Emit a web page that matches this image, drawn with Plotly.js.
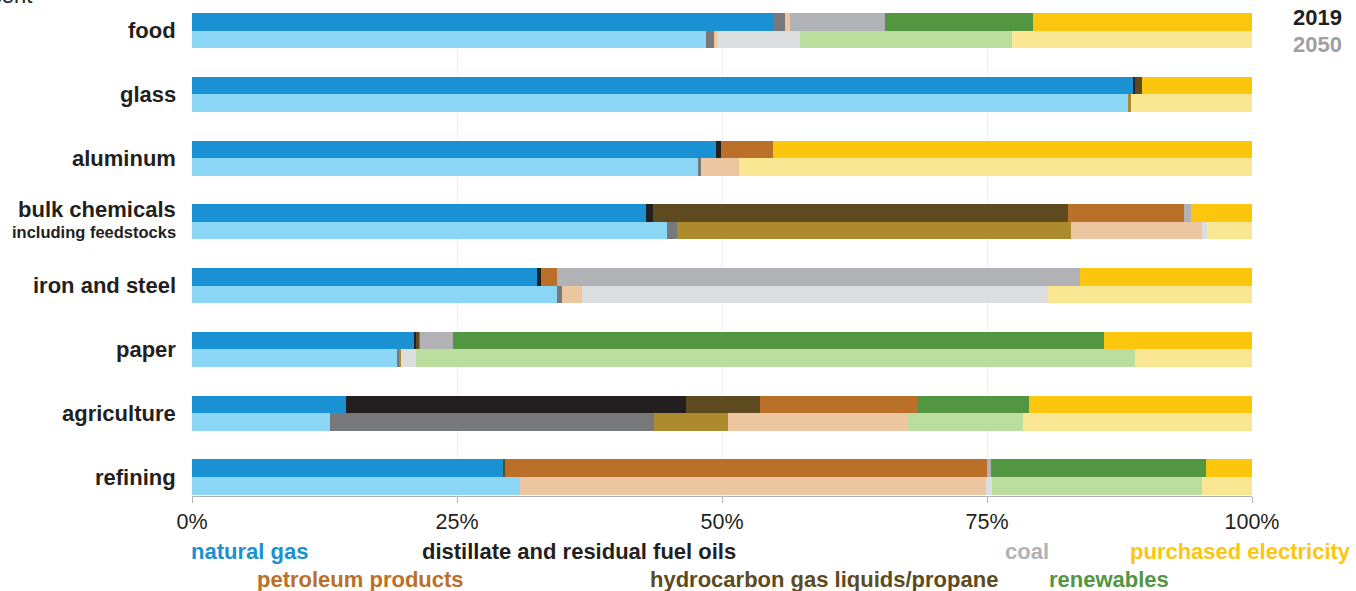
<!DOCTYPE html>
<html>
<head>
<meta charset="utf-8">
<script src="https://cdn.plot.ly/plotly-3.0.1.min.js"></script>
<style>
  html, body { margin: 0; padding: 0; background: #fff; }
  #chart { width: 1356px; height: 591px; }
</style>
</head>
<body>
<div id="chart"></div>
<script>
// ---- data (percent shares of energy consumption) ----
const categories = ['food', 'glass', 'aluminum', 'bulk chemicals', 'iron and steel', 'paper', 'agriculture', 'refining'];
const years = ['2019', '2050'];
const fuelNames = ['natural gas', 'distillate and residual fuel oils', 'hydrocarbon gas liquids/propane',
                   'petroleum products', 'coal', 'renewables', 'purchased electricity'];

const naturalGas2019  = [54.8, 88.8, 49.4, 42.8, 32.5, 20.9, 14.5, 29.3];
const distillate2019  = [1.1, 0.2, 0.5, 0.7, 0.4, 0.2, 32.1, 0.0];
const hgl2019         = [0.0, 0.6, 0.0, 39.1, 0.0, 0.3, 7.0, 0.2];
const petroleum2019   = [0.5, 0.0, 4.9, 11.0, 1.5, 0.1, 14.8, 45.5];
const coal2019        = [9.0, 0.0, 0.0, 0.6, 49.4, 3.1, 0.0, 0.4];
const renewables2019  = [13.9, 0.0, 0.0, 0.0, 0.0, 61.4, 10.6, 20.3];
const electricity2019 = [20.7, 10.4, 45.2, 5.8, 16.2, 14.0, 21.0, 4.3];

const naturalGas2050  = [48.5, 88.3, 47.7, 44.8, 34.4, 19.3, 13.0, 30.9];
const distillate2050  = [0.7, 0.0, 0.3, 1.0, 0.5, 0.2, 30.6, 0.0];
const hgl2050         = [0.0, 0.3, 0.0, 37.1, 0.0, 0.2, 7.0, 0.0];
const petroleum2050   = [0.3, 0.0, 3.6, 12.4, 1.9, 0.0, 16.9, 44.0];
const coal2050        = [7.9, 0.0, 0.0, 0.5, 44.0, 1.4, 0.0, 0.6];
const renewables2050  = [20.0, 0.0, 0.0, 0.0, 0.0, 67.9, 10.9, 19.8];
const electricity2050 = [22.6, 11.4, 48.4, 4.2, 19.2, 11.0, 21.6, 4.7];

const xTickValues = [0, 25, 50, 75, 100];
const xTickLabels = ['0%', '25%', '50%', '75%', '100%'];

// ---- styles ----
const colors2019 = ['#1a91d3', '#231f20', '#5d4a1e', '#ba7028', '#b1b2b5', '#529642', '#fdc60e'];
const colors2050 = ['#8bd5f5', '#77787b', '#ae8a2f', '#ecc5a1', '#dcdddf', '#bbde9f', '#fae793'];
const legendColors = ['#1a91d3', '#231f20', '#5d4a1e', '#ba7028', '#b1b2b5', '#529642', '#fdc60e'];
const FONT = '"Liberation Sans", Arial, Helvetica, sans-serif';

const series2019 = [naturalGas2019, distillate2019, hgl2019, petroleum2019, coal2019, renewables2019, electricity2019];
const series2050 = [naturalGas2050, distillate2050, hgl2050, petroleum2050, coal2050, renewables2050, electricity2050];

const BAR_W = 0.275;
const OFF = 0.1375;
const y2019 = categories.map((c, i) => i - OFF);
const y2050 = categories.map((c, i) => i + OFF);

// in the original, the food row's small 2019 oil slivers are drawn in the lighter tones
function colorFor2019(k) {
  return categories.map(c => (c === 'food' && (k === 1 || k === 3)) ? colors2050[k] : colors2019[k]);
}

const traces = [];
fuelNames.forEach((name, k) => {
  traces.push({
    type: 'bar', orientation: 'h', name: name + ' 2019',
    x: series2019[k], y: y2019, width: BAR_W,
    marker: { color: colorFor2019(k), line: { width: 0 } },
    hoverinfo: 'skip', showlegend: false
  });
  traces.push({
    type: 'bar', orientation: 'h', name: name + ' 2050',
    x: series2050[k], y: y2050, width: BAR_W,
    marker: { color: colors2050[k], line: { width: 0 } },
    hoverinfo: 'skip', showlegend: false
  });
});

const annotations = [];
// category labels
categories.forEach((c, i) => {
  if (c === 'bulk chemicals') {
    annotations.push({ xref: 'paper', yref: 'y', x: -0.013, y: i - 0.2, xanchor: 'right', yanchor: 'middle',
      text: '<b>bulk chemicals</b>', showarrow: false, font: { family: FONT, size: 22, color: '#231f20' } });
    annotations.push({ xref: 'paper', yref: 'y', x: -0.013, y: i + 0.15, xanchor: 'right', yanchor: 'middle',
      text: '<b>including feedstocks</b>', showarrow: false, font: { family: FONT, size: 16.5, color: '#231f20' } });
  } else {
    annotations.push({ xref: 'paper', yref: 'y', x: -0.013, y: i, xanchor: 'right', yanchor: 'middle',
      text: '<b>' + c + '</b>', showarrow: false, font: { family: FONT, size: 22, color: '#231f20' } });
  }
});
// year labels
annotations.push({ xref: 'paper', yref: 'y', x: 1.0872, y: -0.2, xanchor: 'right', yanchor: 'middle',
  text: '<b>' + years[0] + '</b>', showarrow: false, font: { family: FONT, size: 22, color: '#231f20' } });
annotations.push({ xref: 'paper', yref: 'y', x: 1.0872, y: 0.21, xanchor: 'right', yanchor: 'middle',
  text: '<b>' + years[1] + '</b>', showarrow: false, font: { family: FONT, size: 22, color: '#a0a0a2' } });
// axis unit label (cut off at top, as in the original)
annotations.push({ xref: 'paper', yref: 'paper', x: -0.1488, y: 1.004, xanchor: 'right', yanchor: 'bottom',
  text: 'percent', showarrow: false, font: { family: FONT, size: 22, color: '#231f20' } });

// bottom legend (colored text)
const legendPos = [
  { x: -0.0033, y: -0.1157 }, // natural gas
  { x: 0.2154, y: -0.1157 },  // distillate
  { x: 0.4303, y: -0.1715 },  // HGL
  { x: 0.0598, y: -0.1715 },  // petroleum
  { x: 0.7648, y: -0.1157 },  // coal
  { x: 0.8063, y: -0.1715 },  // renewables
  { x: 0.8826, y: -0.1157 }   // electricity
];
fuelNames.forEach((name, k) => {
  annotations.push({ xref: 'paper', yref: 'paper', x: legendPos[k].x, y: legendPos[k].y,
    xanchor: 'left', yanchor: 'middle', text: '<b>' + name + '</b>', showarrow: false,
    font: { family: FONT, size: 22, color: legendColors[k] } });
});

const layout = {
  width: 1356, height: 591,
  margin: { l: 191.5, r: 103.5, t: 12, b: 95, pad: 0 },
  paper_bgcolor: '#ffffff', plot_bgcolor: '#ffffff',
  barmode: 'stack', bargap: 0,
  showlegend: false,
  font: { family: FONT, color: '#231f20' },
  xaxis: {
    range: [0, 100], tickvals: xTickValues, ticktext: xTickLabels,
    ticks: 'outside', ticklen: 6, tickcolor: '#b3b3b3', tickwidth: 1,
    showline: true, linecolor: '#b3b3b3', linewidth: 1,
    showgrid: true, gridcolor: '#f0f0f0', gridwidth: 1, zeroline: false,
    tickfont: { family: FONT, size: 21.5, color: '#231f20' }, fixedrange: true
  },
  yaxis: {
    range: [7.298, -0.293], showticklabels: false, showgrid: false, zeroline: false,
    showline: false, ticks: '', fixedrange: true
  },
  annotations: annotations
};

Plotly.newPlot('chart', traces, layout, { displayModeBar: false, staticPlot: true });
</script>
</body>
</html>
